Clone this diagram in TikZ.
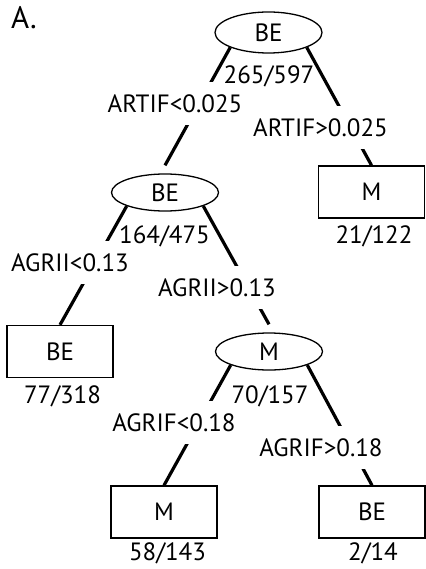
\documentclass[tikz,border=0pt]{standalone}
\usepackage{fontspec}
\setmainfont{PT Sans}
\usetikzlibrary{shapes.geometric}

\begin{document}
\begin{tikzpicture}
[
	x=1pt,y=-1pt,
	every node/.style={font=\fontsize{25}{30}\selectfont},
	split/.style={ellipse,draw,line width=1.3pt,minimum width=107pt,minimum height=37pt,inner sep=0pt},
	leaf/.style={rectangle,draw,line width=1.3pt,minimum width=106pt,minimum height=52pt,inner sep=0pt},
	cond/.style={fill=white,inner xsep=1pt,inner ysep=12pt},
	count/.style={inner sep=0pt},
	branch/.style={line width=3.2pt}
]
	\useasboundingbox (0,0) rectangle (425,569);

	\node[font=\fontsize{31}{36}\selectfont] (title) at (24,18) {A.};

	% nodes
	\node[split,minimum height=41pt] (root) at (268.5,32.5) {BE};
	\node[split] (artlo) at (165,192.5) {BE};
	\node[leaf] (arthi) at (371.5,192) {M};
	\node[leaf] (agrilo) at (60,351.5) {BE};
	\node[split] (agrihi) at (269,351.5) {M};
	\node[leaf] (flo) at (164,512) {M};
	\node[leaf] (fhi) at (372,512) {BE};

	% branches
	\draw[branch] (root.south west) -- ([yshift=8pt]artlo.north);
	\draw[branch] (root.south east) -- (arthi.north);
	\draw[branch] (artlo.south west) -- (agrilo.north);
	\draw[branch] (artlo.south east) -- ([yshift=8pt]agrihi.north);
	\draw[branch] (agrihi.south west) -- (flo.north);
	\draw[branch] (agrihi.south east) -- (fhi.north);

	% split rules
	\node[cond] (c1) at (175,103.5) {ARTIF<0.025};
	\node[cond] (c2) at (320.5,127.5) {ARTIF>0.025};
	\node[cond] (c3) at (70,262.5) {AGRII<0.13};
	\node[cond] (c4) at (217,287.5) {AGRII>0.13};
	\node[cond] (c5) at (174,422.5) {AGRIF<0.18};
	\node[cond] (c6) at (321,447.5) {AGRIF>0.18};

	% counts
	\node[count] (n1) at (269,76) {265/597};
	\node[count] (n2) at (164.5,236) {164/475};
	\node[count] (n3) at (374,236) {21/122};
	\node[count] (n4) at (62.5,396) {77/318};
	\node[count] (n5) at (270,396) {70/157};
	\node[count] (n6) at (167.5,553) {58/143};
	\node[count] (n7) at (373,553) {2/14};

\end{tikzpicture}
\end{document}
